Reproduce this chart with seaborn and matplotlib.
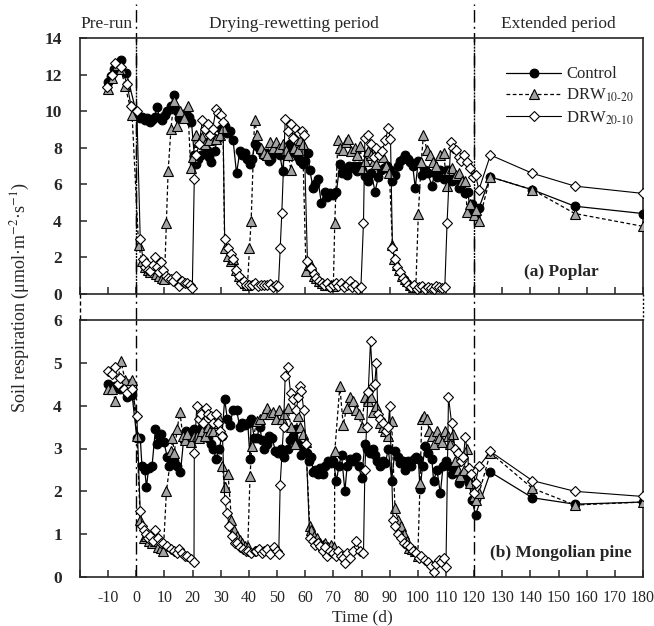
import numpy as np
import pandas as pd
import matplotlib
matplotlib.use("Agg")
import matplotlib.pyplot as plt
import seaborn as sns
from matplotlib.lines import Line2D

# ---------------- data (Time in d, soil respiration in umol m-2 s-1) ----------------
poplar_ctrl_day = [
    -10, -9, -8, -5.5, -3.5, 0.2, 1.2, 2.0, 3.0, 3.8,
    4.8, 5.6, 6.5, 7.4, 8.3, 9.2, 10.2, 11.0, 12.2, 13.4,
    14.3, 15.2, 16.5, 17.6, 18.8, 19.6, 20.6, 21.2, 22.0, 23.0,
    24.0, 25.0, 25.8, 26.6, 27.8, 28.8, 30.0, 31.4, 32.3, 33.2,
    34.4, 35.6, 36.8, 37.6, 38.6, 39.5, 40.4, 41.2, 42.0, 42.8,
    44.0, 45.0, 46.0, 47.0, 47.9, 49.0, 50.0, 51.0, 52.0, 52.6,
    53.6, 54.5, 55.5, 56.4, 57.4, 58.3, 59.2, 60.0, 61.0, 61.6,
    62.8, 63.6, 64.5, 65.7, 66.9, 67.8, 68.7, 70.0, 71.1, 72.3,
    72.9, 74.0, 74.7, 75.5, 76.4, 77.5, 78.5, 79.2, 80.0, 81.2,
    82.4, 83.5, 84.8, 86.0, 87.1, 88.0, 89.0, 90.0, 90.7, 91.9,
    92.8, 93.7, 94.6, 95.5, 96.4, 97.3, 98.2, 99.1, 100.2, 101.4,
    102.6, 103.6, 105.0, 106.0, 106.8, 108.0, 109.2, 110.4, 111.2, 112.1,
    113.3, 114.5, 115.6, 116.9, 117.8, 118.6, 119.3, 120.2, 121.7, 125.8,
    140.7, 155.8, 180]
poplar_ctrl_sr = [
    11.6, 11.9, 12.3, 12.8, 12.1, 9.8, 9.6, 9.7, 9.5, 9.6,
    9.4, 9.5, 9.7, 10.2, 9.6, 9.5, 9.8, 10.0, 10.3, 10.9,
    10.0, 9.6, 9.7, 9.9, 9.7, 9.4, 7.6, 7.1, 7.4, 7.6,
    8.3, 7.9, 7.5, 7.2, 7.8, 8.5, 9.0, 9.2, 8.8, 8.9,
    8.4, 6.6, 7.8, 7.6, 7.7, 7.4, 7.1, 7.4, 8.2, 8.1,
    7.9, 7.6, 7.7, 7.3, 7.4, 7.7, 7.8, 7.6, 6.7, 8.0,
    7.9, 8.2, 7.8, 7.7, 7.5, 7.3, 7.1, 7.3, 7.7, 6.8,
    5.8, 6.0, 6.3, 5.0, 5.6, 5.3, 5.5, 5.4, 5.6, 7.1,
    6.6, 6.8, 6.5, 7.0, 6.9, 7.0, 6.7, 7.0, 6.8, 6.45,
    6.2, 6.6, 5.6, 6.4, 6.8, 6.9, 7.0, 6.8, 6.2, 6.5,
    7.0, 7.3, 7.4, 7.6, 7.4, 7.2, 7.0, 5.8, 7.3, 6.5,
    6.8, 6.6, 5.9, 6.6, 6.4, 6.8, 6.3, 6.8, 6.5, 6.2,
    6.3, 5.8, 6.0, 5.5, 5.6, 4.5, 4.9, 4.4, 4.7, 6.4,
    5.7, 4.8, 4.4]

poplar_d1020_day = [
    -10, -8.5, -7, -5.5, -4, -1.5, 0.8, 2.0, 3.0, 4.0,
    5.0, 6.0, 7.0, 8.0, 9.0, 10.0, 10.7, 11.3, 12.3, 13.3,
    14.5, 15.7, 17.0, 18.3, 19.3, 20.2, 21.1, 22.3, 23.5, 24.5,
    25.8, 27.0, 28.3, 29.6, 30.8, 31.4, 32.6, 33.5, 34.4, 35.5,
    36.5, 37.5, 38.5, 39.5, 40.2, 40.8, 42.0, 43.0, 44.2, 45.3,
    46.6, 47.5, 48.4, 49.5, 50.8, 52.0, 53.1, 54.0, 54.9, 56.0,
    57.3, 58.2, 59.1, 60.3, 61.2, 62.1, 63.0, 64.0, 65.0, 66.0,
    67.0, 68.0, 69.0, 70.0, 70.5, 71.6, 72.3, 73.5, 74.5, 75.3,
    76.4, 77.6, 78.5, 79.5, 80.3, 81.2, 82.3, 83.5, 84.4, 85.3,
    86.5, 87.5, 88.8, 89.9, 91.0, 91.6, 92.5, 93.4, 94.4, 95.3,
    96.3, 97.3, 98.3, 99.3, 100.2, 101.2, 102.0, 103.2, 104.4, 105.5,
    106.5, 107.8, 109.2, 110.4, 111.2, 112.1, 113.5, 114.8, 115.8, 116.9,
    117.5, 118.6, 119.8, 120.5, 121.7, 125.8, 140.7, 155.8, 180]
poplar_d1020_sr = [
    11.2, 11.8, 12.5, 12.3, 11.4, 9.8, 2.7, 1.8, 1.5, 1.3,
    1.2, 1.4, 1.1, 1.0, 0.9, 0.8, 3.9, 6.7, 9.0, 10.55,
    9.2, 10.0, 9.6, 10.3, 6.9, 7.5, 8.7, 8.3, 8.6, 8.2,
    8.4, 8.8, 8.5, 8.7, 9.1, 2.5, 2.1, 1.8, 1.9, 1.3,
    1.0, 0.8, 0.6, 0.5, 2.5, 4.0, 9.5, 8.7, 8.0, 7.7,
    7.6, 8.3, 8.0, 8.3, 8.0, 8.2, 7.9, 7.6, 6.8, 8.0,
    7.9, 8.4, 8.2, 1.25, 1.6, 1.6, 1.0, 0.9, 0.7, 0.6,
    0.5, 0.5, 0.5, 0.45, 3.9, 8.4, 8.0, 7.9, 8.3, 8.5,
    7.8, 8.0, 7.6, 8.1, 6.9, 7.3, 7.8, 7.6, 7.3, 7.1,
    7.7, 7.5, 7.0, 6.6, 2.7, 1.9, 1.6, 1.3, 1.0, 0.8,
    0.7, 0.5, 0.4, 0.4, 4.4, 7.2, 8.7, 7.9, 7.6, 7.2,
    7.0, 7.6, 7.7, 5.9, 6.8, 6.9, 6.5, 6.6, 6.2, 6.2,
    4.5, 4.9, 4.3, 4.6, 4.0, 6.4, 5.7, 4.4, 3.7]

poplar_d2010_day = [
    -10.5, -8.5, -7.5, -5.4, -3.3, -1.9, 0.2, 1.4, 2.4, 3.0,
    3.6, 4.3, 5.0, 5.8, 6.8, 7.4, 8.0, 8.6, 9.5, 10.4,
    11.3, 12.2, 13.0, 14.0, 15.2, 16.2, 17.2, 18.1, 19.0, 19.9,
    20.6, 21.3, 22.3, 23.5, 24.4, 25.3, 26.2, 27.1, 28.3, 29.2,
    30.1, 30.8, 31.4, 32.6, 33.5, 34.4, 35.5, 36.4, 37.3, 38.2,
    39.1, 40.2, 41.2, 42.3, 43.3, 44.3, 45.4, 46.4, 47.5, 48.5,
    49.5, 50.5, 51.1, 51.7, 52.9, 54.0, 55.0, 55.8, 56.8, 57.9,
    58.8, 59.6, 60.8, 62.0, 63.0, 63.8, 64.8, 65.8, 66.8, 67.8,
    68.8, 69.8, 70.8, 71.8, 72.8, 73.8, 74.8, 75.8, 76.8, 77.8,
    78.8, 79.8, 80.7, 81.2, 82.4, 83.4, 84.4, 85.3, 86.3, 87.3,
    88.5, 89.5, 90.3, 91.0, 91.8, 92.7, 93.6, 94.6, 95.6, 96.6,
    97.6, 98.6, 99.6, 100.6, 101.6, 102.6, 103.6, 104.6, 105.6, 106.6,
    107.6, 108.6, 109.6, 110.4, 111.7, 112.6, 113.5, 114.5, 115.4, 116.3,
    117.5, 118.6, 119.5, 120.5, 121.7, 125.8, 140.7, 155.8, 180]
poplar_d2010_sr = [
    11.3, 12.0, 12.65, 12.4, 11.5, 10.3, 10.0, 3.0, 1.9, 1.5,
    1.7, 1.3, 1.25, 1.6, 2.0, 1.5, 1.2, 1.75, 1.3, 1.0,
    0.9, 0.8, 0.7, 1.0, 0.45, 0.7, 0.6, 0.6, 0.5, 0.35,
    6.3, 7.6, 8.2, 9.5, 9.0, 9.3, 8.7, 9.0, 10.1, 9.9,
    9.8, 9.4, 3.0, 2.5, 2.2, 1.9, 1.3, 1.0, 0.6, 0.7,
    0.5, 0.5, 0.5, 0.6, 0.45, 0.5, 0.5, 0.5, 0.55, 0.4,
    0.5, 0.45, 2.5, 4.45, 9.55, 8.9, 9.3, 8.55, 9.0, 8.8,
    8.9, 8.7, 1.8, 1.4, 1.1, 0.9, 0.7, 0.6, 0.5, 0.6,
    0.4, 0.5, 0.6, 0.45, 0.6, 0.4, 0.5, 0.7, 0.4, 0.5,
    0.3, 0.4, 3.9, 8.55, 8.7, 8.2, 7.5, 8.0, 7.6, 7.8,
    8.4, 9.1, 8.5, 2.5, 1.9, 1.5, 1.2, 0.9, 0.7, 0.5,
    0.4, 0.5, 0.3, 0.4, 0.45, 0.3, 0.4, 0.35, 0.3, 0.45,
    0.4, 0.35, 0.4, 3.9, 8.3, 8.0, 7.9, 7.5, 7.3, 7.6,
    7.2, 6.9, 6.4, 6.5, 5.7, 7.6, 6.6, 5.9, 5.5]

pine_ctrl_day = [
    -10, -9, -7.5, -5.7, -3.3, -1.5, 0.2, 1.4, 2.0, 3.0,
    3.6, 4.4, 5.6, 6.8, 7.4, 8.0, 8.6, 9.8, 11.0, 11.6,
    12.2, 13.4, 14.5, 15.7, 16.8, 17.6, 18.8, 20.0, 20.6, 21.5,
    22.4, 23.4, 24.4, 25.3, 26.4, 27.4, 28.3, 29.5, 30.4, 31.4,
    32.3, 33.2, 34.4, 35.6, 36.8, 37.6, 38.6, 39.6, 40.4, 40.8,
    41.9, 42.8, 43.8, 44.7, 45.5, 46.4, 47.3, 48.2, 49.4, 50.5,
    51.5, 52.6, 53.8, 54.7, 55.6, 56.8, 57.6, 58.6, 59.6, 60.6,
    61.4, 62.2, 62.8, 63.6, 64.5, 65.4, 66.3, 67.2, 68.1, 69.0,
    70.0, 71.1, 72.0, 72.9, 74.1, 74.9, 75.8, 77.0, 78.2, 79.0,
    80.0, 81.2, 82.0, 83.0, 84.0, 84.8, 85.6, 86.5, 87.5, 88.5,
    89.5, 90.7, 91.9, 92.8, 93.7, 94.6, 95.5, 96.5, 97.5, 98.5,
    99.4, 100.2, 100.8, 101.7, 102.6, 103.8, 105.0, 105.6, 106.8, 108.0,
    109.0, 110.0, 111.0, 112.1, 113.3, 114.5, 115.5, 116.5, 117.5, 118.3,
    119.2, 120.5, 125.8, 140.7, 155.8, 180]
pine_ctrl_sr = [
    4.5, 4.4, 4.45, 4.4, 4.2, 4.25, 3.25, 3.25, 2.6, 2.5,
    2.1, 2.55, 2.6, 3.45, 3.1, 3.3, 3.35, 3.15, 2.8, 2.6,
    2.75, 2.7, 2.6, 2.45, 3.2, 3.4, 3.35, 3.4, 3.45, 3.3,
    3.4, 3.5, 3.3, 3.25, 3.1, 3.0, 2.75, 3.0, 3.3, 4.15,
    3.7, 3.55, 3.9, 3.9, 3.5, 3.6, 3.55, 3.6, 2.75, 3.7,
    3.25, 3.25, 3.5, 3.2, 3.0, 3.1, 3.3, 3.25, 2.95, 2.9,
    3.0, 2.8, 3.0, 3.2, 3.3, 3.45, 3.1, 2.85, 3.0, 2.9,
    2.7, 2.8, 2.45, 2.5, 2.4, 2.55, 2.4, 2.6, 2.7, 2.65,
    2.7, 2.25, 2.6, 2.85, 2.0, 2.6, 2.75, 2.7, 2.8, 2.6,
    2.3, 3.1, 3.0, 2.9, 3.0, 2.85, 2.7, 2.6, 2.7, 2.65,
    3.0, 2.25, 2.95, 2.8, 2.65, 2.7, 2.5, 2.7, 2.6, 2.75,
    2.8, 2.75, 2.05, 2.6, 3.05, 2.9, 2.75, 2.25, 2.5, 1.95,
    2.6, 2.7, 2.6, 2.4, 2.5, 2.2, 2.35, 2.3, 2.35, 2.2,
    1.8, 1.45, 2.45, 1.85, 1.7, 1.75]

pine_d1020_day = [
    -10, -8.5, -7.5, -5.5, -4, -1.5, 0.2, 1.4, 2.6, 3.6,
    4.6, 5.6, 6.6, 7.6, 8.6, 9.6, 10.7, 12.5, 12.8, 13.5,
    14.5, 15.5, 16.5, 17.3, 18.1, 19.5, 20.6, 21.4, 22.3, 23.4,
    24.4, 25.3, 26.2, 27.1, 28.0, 28.9, 29.7, 30.5, 31.4, 32.6,
    33.8, 34.8, 35.8, 36.8, 37.7, 38.6, 39.6, 40.4, 41.0, 42.8,
    44.0, 45.2, 46.4, 47.6, 48.6, 49.6, 50.6, 51.6, 52.6, 53.8,
    55.0, 56.2, 57.4, 58.3, 59.2, 60.2, 61.6, 62.2, 63.2, 64.2,
    65.2, 66.2, 67.2, 68.2, 69.2, 70.4, 70.5, 72.3, 73.5, 74.7,
    75.8, 77.0, 78.0, 79.0, 80.0, 81.2, 82.3, 83.2, 84.2, 85.3,
    86.5, 87.5, 88.5, 89.5, 90.7, 91.9, 93.0, 94.0, 95.0, 96.0,
    97.0, 98.0, 99.0, 100.0, 100.8, 101.4, 102.3, 103.2, 104.1, 105.0,
    105.9, 106.8, 107.7, 108.6, 109.8, 110.7, 111.6, 112.5, 113.3, 114.2,
    115.1, 116.3, 117.5, 118.6, 119.8, 120.5, 121.7, 125.8, 140.7, 155.8,
    180]
pine_d1020_sr = [
    4.4, 4.4, 4.1, 5.05, 4.6, 4.6, 3.3, 1.33, 0.9, 0.95,
    0.85, 0.8, 0.85, 0.7, 0.68, 0.6, 2.0, 2.93, 3.25, 2.9,
    3.45, 3.85, 3.3, 3.2, 3.35, 3.15, 3.3, 3.3, 3.25, 3.4,
    3.3, 3.5, 3.4, 3.4, 3.6, 3.75, 3.4, 2.6, 2.1, 2.4,
    1.33, 1.1, 0.95, 0.86, 0.8, 0.73, 0.7, 2.35, 3.05, 3.65,
    3.7, 3.8, 3.95, 3.8, 3.85, 3.7, 3.9, 3.7, 3.8, 3.95,
    3.5, 3.1, 3.75, 3.5, 3.35, 3.15, 1.2, 1.1, 0.95, 0.9,
    0.8, 0.75, 0.8, 0.7, 0.75, 0.7, 2.93, 4.45, 3.55, 3.95,
    4.2, 4.1, 3.9, 3.8, 3.5, 4.2, 4.1, 4.2, 3.85, 4.0,
    3.6, 3.5, 3.4, 3.3, 3.65, 1.6, 1.33, 1.2, 1.0, 0.85,
    0.68, 0.65, 0.6, 0.5, 2.2, 3.7, 3.75, 3.7, 3.4, 3.3,
    3.1, 3.4, 3.25, 3.15, 3.4, 3.3, 3.1, 3.35, 2.7, 2.5,
    2.35, 2.5, 3.0, 2.2, 1.9, 1.8, 1.95, 2.9, 2.07, 1.68,
    1.75]

pine_d2010_day = [
    -10, -8.8, -7.5, -6.5, -5.7, -4.5, -3.3, -1.5, 0.2, 1.4,
    2.0, 2.6, 3.4, 4.2, 5.0, 5.8, 6.8, 7.6, 8.6, 9.6,
    11.0, 12.2, 13.4, 14.3, 15.2, 16.2, 17.2, 18.1, 19.3, 20.5,
    20.6, 21.5, 22.3, 22.9, 23.8, 24.6, 25.5, 26.4, 27.3, 28.2,
    29.0, 29.9, 30.6, 31.4, 32.2, 33.0, 34.0, 34.9, 35.8, 36.8,
    37.8, 38.8, 39.8, 40.8, 42.0, 42.5, 43.5, 44.5, 45.5, 46.4,
    47.6, 48.8, 50.0, 50.6, 51.1, 52.3, 52.9, 53.8, 54.8, 55.8,
    56.8, 57.6, 58.1, 58.6, 59.5, 60.3, 61.6, 62.6, 63.5, 64.4,
    65.2, 66.2, 67.0, 67.8, 68.8, 69.8, 70.8, 71.8, 72.8, 73.5,
    74.1, 75.0, 76.0, 77.0, 78.2, 79.3, 80.7, 81.2, 81.8, 82.4,
    83.2, 84.1, 84.7, 85.3, 85.8, 86.7, 87.6, 88.8, 89.5, 90.0,
    91.2, 92.0, 93.0, 94.0, 95.0, 96.1, 97.3, 98.3, 99.3, 100.3,
    101.3, 102.6, 103.6, 104.6, 105.6, 106.5, 107.4, 108.4, 109.4, 110.0,
    110.9, 112.0, 113.2, 114.2, 115.2, 116.2, 116.9, 118.1, 119.0, 119.8,
    120.5, 121.7, 125.8, 140.7, 155.8, 180]
pine_d2010_sr = [
    4.8, 4.75, 4.9, 4.5, 4.65, 4.4, 4.3, 4.4, 3.75, 1.53,
    1.2, 1.1, 1.0, 0.9, 0.95, 0.85, 1.1, 0.9, 0.79, 0.8,
    0.73, 0.65, 0.6, 0.55, 0.65, 0.55, 0.5, 0.48, 0.42, 0.36,
    2.9, 4.0, 3.7, 3.8, 3.6, 3.95, 3.8, 3.75, 3.6, 3.8,
    3.6, 3.4, 3.3, 1.8, 1.5, 1.2, 0.95, 0.79, 0.8, 0.7,
    0.65, 0.6, 0.6, 0.55, 0.6, 0.6, 0.65, 0.55, 0.6, 0.65,
    0.53, 0.7, 0.6, 0.53, 2.15, 3.5, 4.7, 4.9, 4.3, 4.15,
    3.9, 4.2, 4.45, 4.35, 3.9, 3.1, 0.9, 0.85, 0.75, 0.8,
    0.73, 0.6, 0.7, 0.48, 0.6, 0.55, 0.5, 0.6, 0.5, 0.45,
    0.32, 0.55, 0.45, 0.6, 0.85, 0.6, 0.55, 2.5, 3.5, 4.33,
    5.5, 4.45, 4.5, 5.0, 3.8, 3.7, 3.6, 3.4, 3.5, 4.0,
    1.33, 1.2, 1.0, 0.9, 0.8, 0.75, 0.7, 0.6, 0.55, 0.45,
    0.5, 0.4, 0.35, 0.25, 0.12, 0.3, 0.4, 0.35, 0.45, 0.24,
    4.2, 3.6, 3.0, 2.9, 2.7, 2.8, 3.28, 2.55, 2.4, 1.95,
    2.2, 2.58, 2.93, 2.25, 2.0, 1.88]

treatments = ["Control", "DRW$_{10\\text{-}20}$", "DRW$_{20\\text{-}10}$"]
period_labels = ["Pre-run", "Drying-rewetting period", "Extended period"]
panel_labels = ["(a) Poplar", "(b) Mongolian pine"]
x_ticks = list(range(-20, 181, 10))
x_tick_labels = [""] + [str(v) for v in range(-10, 181, 10)]
top_yticks = list(range(0, 15, 2))
bot_yticks = list(range(0, 7))

# ---------------- style ----------------
sns.set_style("ticks")
plt.rcParams['font.family'] = ['Liberation Serif', 'DejaVu Serif']
plt.rcParams['mathtext.fontset'] = 'stix'

styles = [
    dict(color='black', linewidth=0.9, linestyle='-', marker='o', markersize=6.3,
         markerfacecolor='black', markeredgecolor='black', markeredgewidth=0.8),
    dict(color='black', linewidth=0.9, linestyle=(0, (3, 2)), marker='^', markersize=7.2,
         markerfacecolor='#a3a3a3', markeredgecolor='black', markeredgewidth=0.8),
    dict(color='black', linewidth=0.8, linestyle='-', marker='D', markersize=5.2,
         markerfacecolor='white', markeredgecolor='black', markeredgewidth=0.8),
]

W, H = 654, 626
fig = plt.figure(figsize=(W / 100, H / 100), dpi=100)
left, width = 80 / W, 563 / W
ax_top = fig.add_axes([left, 1 - 294 / H, width, 256 / H])
ax_bot = fig.add_axes([left, 1 - 577 / H, width, 257 / H])

series = [
    (ax_top, [(poplar_ctrl_day, poplar_ctrl_sr), (poplar_d1020_day, poplar_d1020_sr),
              (poplar_d2010_day, poplar_d2010_sr)]),
    (ax_bot, [(pine_ctrl_day, pine_ctrl_sr), (pine_d1020_day, pine_d1020_sr),
              (pine_d2010_day, pine_d2010_sr)]),
]

for ax, group in series:
    for (d, v), st in zip(group, styles):
        df = pd.DataFrame({"Time": d, "SR": v})
        sns.lineplot(data=df, x="Time", y="SR", ax=ax, sort=False, estimator=None,
                     errorbar=None, zorder=3, **st)

dashdot = (0, (9, 3, 1.5, 3))
for ax, yl, yt in [(ax_top, 14, top_yticks), (ax_bot, 6, bot_yticks)]:
    ax.set_xlim(-20, 180)
    ax.set_ylim(0, yl)
    ax.set_xticks(x_ticks)
    ax.set_yticks(yt)
    ax.set_yticklabels([str(t) for t in yt], fontweight='bold', fontsize=12.5)
    ax.set_xlabel("")
    ax.set_ylabel("")
    for s in ax.spines.values():
        s.set_linewidth(1.2)
        s.set_visible(True)
    ax.tick_params(axis='both', direction='in', length=5, width=1.1, top=False, right=False)
    ax.tick_params(axis='y', pad=13)
    ax.axvline(0, color='black', lw=1.0, ls=dashdot, zorder=1)
    ax.axvline(120, color='black', lw=1.0, ls=dashdot, zorder=1)

ax_top.set_xticklabels([])
ax_bot.set_xticklabels(x_tick_labels, fontsize=11.5)
ax_bot.tick_params(axis='x', pad=9)

# dash-dot lines extending into the header and across the gap
gap = 26 / (256 / 14)
for xv in (0, 120):
    ax_top.plot([xv, xv], [-gap, 14 + 34 / (256 / 14)], color='black', lw=1.0, ls=dashdot,
                clip_on=False, zorder=1)
# broken-axis marks between panels
ax_top.plot([-20, -20], [0, -gap], color='black', lw=1.0, ls=(0, (3, 2)), clip_on=False)
ax_top.plot([180, 180], [0, -gap], color='black', lw=1.0, ls=(0, (1.5, 1.5)), clip_on=False)

# header texts
for txt, xc in zip(period_labels, [107, 294, 558]):
    fig.text(xc / W, 1 - 28.5 / H, txt, ha='center', va='baseline', fontsize=12.5)

ax_top.text(151, (294 - 272) / (256 / 14), panel_labels[0], ha='center', va='center',
            fontsize=12.5, fontweight='bold')
ax_bot.text(151, (577 - 553) / (257 / 6), panel_labels[1], ha='center', va='center',
            fontsize=12.5, fontweight='bold')

handles = [Line2D([], [], **st) for st in styles]
ax_top.legend(handles, treatments, loc='upper left', bbox_to_anchor=(0.745, 0.915),
              frameon=False, fontsize=12, handlelength=3.3, handletextpad=0.3,
              labelspacing=0.28, borderaxespad=0)

fig.text(362 / W, 1 - 617 / H, "Time (d)", ha='center', va='center', fontsize=12.5)
fig.text(20 / W, 1 - 298 / H, "Soil respiration (μmol·m$^{-2}$·s$^{-1}$)", ha='center',
         va='center', rotation=90, fontsize=13)

fig.savefig("out.png", dpi=100)
